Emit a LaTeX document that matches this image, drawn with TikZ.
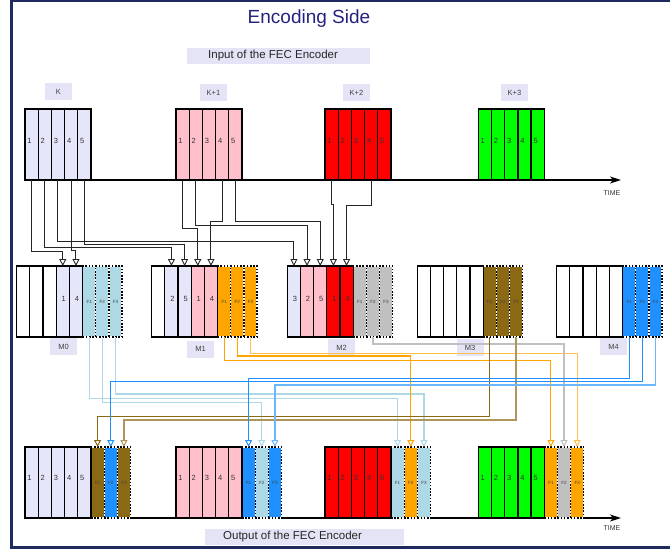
\documentclass[tikz,border=0pt]{standalone}
\usepackage{fontspec}
\setmainfont{Liberation Sans}
\usetikzlibrary{arrows.meta}
\definecolor{lav}{HTML}{E6E6FA}
\definecolor{labbg}{HTML}{E4E4F6}
\definecolor{pnk}{HTML}{FFC0CB}
\definecolor{redc}{HTML}{FF0000}
\definecolor{grn}{HTML}{00FF00}
\definecolor{lbl}{HTML}{ADD8E6}
\definecolor{org}{HTML}{FFA500}
\definecolor{gry}{HTML}{C0C0C0}
\definecolor{brn}{HTML}{8B6914}
\definecolor{blu}{HTML}{1E90FF}
\definecolor{navyc}{HTML}{1F2A5E}
\definecolor{titlec}{HTML}{23237E}
\begin{document}
\begin{tikzpicture}[x=1pt,y=-1pt,
  cell/.style={draw=black, line width=1.25pt, minimum width=13.17pt, minimum height=71pt, inner sep=0pt, outer sep=0pt, anchor=north west},
  fcell/.style={draw=white, line width=1.25pt, minimum width=13.17pt, minimum height=71pt, inner sep=0pt, outer sep=0pt, anchor=north west,
    font=\fontsize{4.5}{5}\selectfont, text=black!75,
    postaction={draw=black, line width=1.25pt, dash pattern=on 1.6pt off 1.6pt}},
  num/.style={font=\fontsize{7.5}{8}\selectfont, text=black!80, inner sep=0pt},
  lab/.style={fill=labbg, inner sep=0pt, minimum width=27pt, minimum height=17pt, font=\fontsize{7.5}{9}\selectfont, text=black!75},
  bigbox/.style={fill=labbg, inner sep=0pt, minimum height=16pt, anchor=west},
  bigtxt/.style={font=\fontsize{11.5}{13}\selectfont, text=black!85, inner sep=0pt, anchor=west},
  link/.style={draw=black!85, line width=1pt, -{Triangle[open, width=7pt, length=7pt, line width=0.9pt]}},
  clink/.style={line width=1.2pt, -{Triangle[open, width=7pt, length=7pt, line width=1pt]}},
  axis/.style={draw=black, line width=1.2pt, -{Stealth[length=11pt, width=7pt, inset=3pt]}},
  timetxt/.style={font=\fontsize{7}{8}\selectfont, text=black!80, inner sep=0pt},
]
\useasboundingbox (0,0) rectangle (670,551);
\draw[navyc, line width=2.5pt] (11.7,1) rectangle (720,547.5);

% title and boxes
\node[font=\fontsize{19}{22}\selectfont, text=titlec, inner sep=0pt] (title) at (309,19) {Encoding Side};
\node[bigbox, minimum width=183pt] (inbox) at (187,56) {};
\node[bigtxt] (intext) at (208,56) {Input of the FEC Encoder};
\node[bigbox, minimum width=199pt] (outbox) at (205,537) {};
\node[bigtxt] (outtext) at (223,537) {Output of the FEC Encoder};

% group labels
\node[lab] (lK) at (58.5,92) {K};
\node[lab] (lK1) at (213.5,93) {K+1};
\node[lab] (lK2) at (356.5,93) {K+2};
\node[lab] (lK3) at (514.5,93) {K+3};
\node[lab] (lM0) at (63.5,346.5) {M0};
\node[lab] (lM1) at (200.5,349) {M1};
\node[lab] (lM2) at (341.5,347.5) {M2};
\node[lab] (lM3) at (470,347.5) {M3};
\node[lab] (lM4) at (613.5,346.5) {M4};

% time axes
\coordinate (a1s) at (25,180);
\coordinate (a1e) at (621,180);
\draw[axis] (a1s) -- (a1e);
\node[timetxt] (time1) at (612,193) {TIME};
\coordinate (a2s) at (25,518);
\coordinate (a2e) at (621,518);
\draw[axis] (a2s) -- (a2e);
\node[timetxt] (time2) at (612,528) {TIME};

% top row
\foreach \g/\x/\c in {A/25/lav, B/176/pnk, C/325/redc, D/478.3/grn}{
  \foreach \i in {1,...,5}{
    \node[cell, fill=\c] (t\g\i) at ({\x+(\i-1)*13.2},109) {};
    \node[num, anchor=west] (nt\g\i) at ({\x+(\i-1)*13.2+2.2},141) {\i};
  }
}

% middle row F cells
\foreach \g/\x/\fc in {A/16.7/lbl, B/151.7/org, C/287.3/gry, D/417.3/brn, E/556.7/blu}{
  \node[fcell, fill=\fc] (m\g6) at ({\x+5*13.17},266) {F1};
  \node[fcell, fill=\fc] (m\g7) at ({\x+6*13.17},266) {F2};
  \node[fcell, fill=\fc] (m\g8) at ({\x+7*13.17},266) {F3};
}
% middle row data cells
\foreach \g/\x/\i/\c/\t in {A/16.7/1/white/{}, A/16.7/2/white/{}, A/16.7/3/white/{}, A/16.7/4/lav/1, A/16.7/5/lav/4,
  B/151.7/1/white/{}, B/151.7/2/lav/2, B/151.7/3/lav/5, B/151.7/4/pnk/1, B/151.7/5/pnk/4,
  C/287.3/1/lav/3, C/287.3/2/pnk/2, C/287.3/3/pnk/5, C/287.3/4/redc/1, C/287.3/5/redc/4,
  D/417.3/1/white/{}, D/417.3/2/white/{}, D/417.3/3/white/{}, D/417.3/4/white/{}, D/417.3/5/white/{},
  E/556.7/1/white/{}, E/556.7/2/white/{}, E/556.7/3/white/{}, E/556.7/4/white/{}, E/556.7/5/white/{}}{
  \node[cell, fill=\c, label={[num, xshift=1pt, yshift=3pt]center:\t}] (m\g\i) at ({\x+(\i-1)*13.17},266) {};
}

% bottom row F cells
\foreach \g/\x/\ca/\cb/\cc in {A/25/brn/blu/brn, B/176/blu/lbl/blu, C/325/lbl/org/lbl, D/478.3/org/gry/org}{
  \node[fcell, fill=\ca] (b\g6) at ({\x+66},447) {F1};
  \node[fcell, fill=\cb] (b\g7) at ({\x+66+13.17},447) {F2};
  \node[fcell, fill=\cc] (b\g8) at ({\x+66+2*13.17},447) {F3};
}
% bottom row data cells
\foreach \g/\x/\c in {A/25/lav, B/176/pnk, C/325/redc, D/478.3/grn}{
  \foreach \i in {1,...,5}{
    \node[cell, fill=\c] (b\g\i) at ({\x+(\i-1)*13.2},447) {};
    \node[num, anchor=west] (nb\g\i) at ({\x+(\i-1)*13.2+2.2},478) {\i};
  }
}

% top -> middle connectors
\draw[link] (tA1.south) -- (tA1.south |- 0,251.5) -| (mA4.north);
\draw[link] (tA2.south) -- (tA2.south |- 0,247) -| (mB2.north);
\draw[link] (tA3.south) -- (tA3.south |- 0,241.5) -| (mC1.north);
\draw[link] (tA4.south) -- (tA4.south |- 0,250) -| (mA5.north);
\draw[link] (tA5.south) -- (tA5.south |- 0,244.5) -| (mB3.north);
\draw[link] (tB1.south) -- (tB1.south |- 0,228) -| (mB4.north);
\draw[link] (tB2.south) -- (tB2.south |- 0,225) -| (mC2.north);
\draw[link] (tB4.south) -- (tB4.south |- 0,221.7) -| (mB5.north);
\draw[link] (tB5.south) -- (tB5.south |- 0,221.7) -| (mC3.north);
\draw[link] (tC1.south) -- (tC1.south |- 0,204) -| (mC4.north);
\draw[link] (tC4.south) -- (tC4.south |- 0,205) -| (mC5.north);

% middle -> bottom connectors
\draw[clink, lbl] (mA6.south) -- (mA6.south |- 0,398.3) -| (bC6.north);
\draw[clink, lbl] (mA7.south) -- (mA7.south |- 0,402.3) -| (bB7.north);
\draw[clink, lbl] (mA8.south) -- (mA8.south |- 0,394) -| (bC8.north);
\draw[clink, org] (mB6.south) -- (mB6.south |- 0,360.7) -| (bD6.north);
\draw[clink, org] (mB7.south) -- (mB7.south |- 0,356) -| (bC7.north);
\draw[clink, org!70!white] (mB8.south) -- (mB8.south |- 0,353.3) -| (bD8.north);
\draw[clink, gry] (mC7.south) -- (mC7.south |- 0,344) -| (bD7.north);
\draw[clink, brn] (mD6.south) -- (mD6.south |- 0,416.7) -| (bA6.north);
\draw[clink, brn!70!white] (mD8.south) -- (mD8.south |- 0,420) -| (bA8.north);
\draw[clink, blu] (mE6.south) -- (mE6.south |- 0,378.3) -| (bB6.north);
\draw[clink, blu] (mE7.south) -- (mE7.south |- 0,381.7) -| (bA7.north);
\draw[clink, blu!65!white] (mE8.south) -- (mE8.south |- 0,385) -| (bB8.north);
\end{tikzpicture}
\end{document}
